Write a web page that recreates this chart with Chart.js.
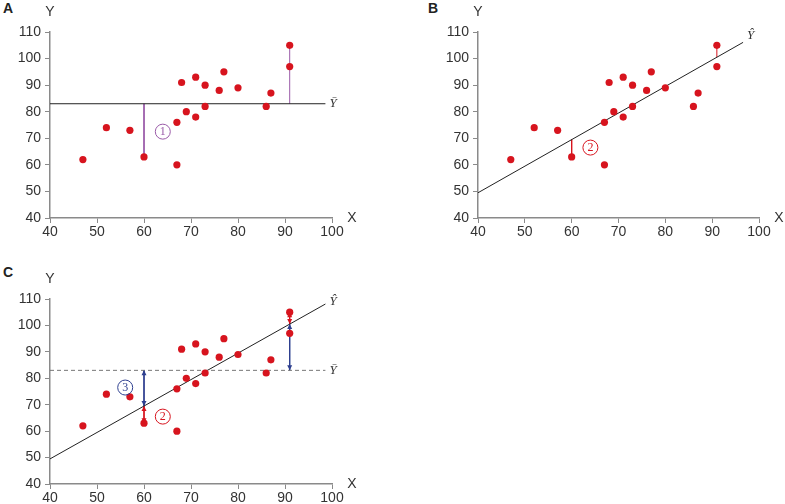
<!DOCTYPE html>
<html>
<head>
<meta charset="utf-8">
<script src="https://cdn.jsdelivr.net/npm/chart.js@4.4.0/dist/chart.umd.min.js"></script>
<style>
  body { margin: 0; background: #fff; width: 785px; height: 504px; position: relative; overflow: hidden; font-family: "Liberation Sans", Arial, sans-serif; }
  canvas { position: absolute; }
  .tag { position: absolute; font-weight: bold; font-size: 14px; color: #222; }
</style>
</head>
<body>
<div class="tag" style="left:3px;top:0px">A</div>
<div class="tag" style="left:428px;top:0px">B</div>
<div class="tag" style="left:3px;top:264px">C</div>
<canvas id="panelA" width="360" height="250" style="left:0;top:0"></canvas>
<canvas id="panelB" width="385" height="250" style="left:400px;top:0"></canvas>
<canvas id="panelC" width="360" height="266" style="left:0;top:250px"></canvas>
<script>
const xs = [47, 52, 57, 60, 67, 67, 68, 69, 71, 71, 73, 73, 76, 77, 80, 86, 87, 91, 91];
const ys = [62, 74, 73, 63, 60, 76, 91, 80, 93, 78, 90, 82, 88, 95, 89, 82, 87, 105, 97];
const xTicks = [40, 50, 60, 70, 80, 90, 100];
const yTicks = [40, 50, 60, 70, 80, 90, 100, 110];
const meanY = 83;
const meanLineX = [40, 98.6];
const regLineB = { x: [40, 96.6], y: [49.5, 106.1] };
const regLineC = { x: [40, 98.6], y: [49.5, 108.1] };
const residX = [60, 91];
const residY = [63, 105];
const fitY = [69.5, 100.5];

const red = "#d7141e";
const purple = "#9a5ba8";
const blue = "#2e3f8f";

const pts = xs.map((x, i) => ({ x: x, y: ys[i] }));

function seg(x1, y1, x2, y2, color, extra) {
  return Object.assign({
    data: [{ x: x1, y: y1 }, { x: x2, y: y2 }],
    showLine: true, pointRadius: 0, borderColor: color, borderWidth: 1, order: 2
  }, extra || {});
}

const overlay = {
  id: "overlay",
  afterDatasetsDraw(chart) {
    const ctx = chart.ctx, xs_ = chart.scales.x, ys_ = chart.scales.y;
    const o = chart.options.plugins.overlay;
    ctx.save();
    // arrowheads
    chart.data.datasets.forEach((ds) => {
      if (!ds.arrows) return;
      const a = ds.data[0], b = ds.data[1];
      const ax = xs_.getPixelForValue(a.x), ay = ys_.getPixelForValue(a.y);
      const bx = xs_.getPixelForValue(b.x), by = ys_.getPixelForValue(b.y);
      [[ax, ay, by > ay ? -1 : 1], [bx, by, by > ay ? 1 : -1]].forEach(([px, py, dir]) => {
        ctx.fillStyle = ds.borderColor;
        ctx.beginPath();
        ctx.moveTo(px, py);
        ctx.lineTo(px - 2.5, py - dir * 5);
        ctx.lineTo(px + 2.5, py - dir * 5);
        ctx.closePath();
        ctx.fill();
      });
    });
    // circled numbers
    (o.circles || []).forEach((c) => {
      const px = xs_.getPixelForValue(c.x), py = ys_.getPixelForValue(c.y);
      ctx.strokeStyle = c.color;
      ctx.lineWidth = 1;
      ctx.beginPath();
      ctx.arc(px, py, 7.5, 0, Math.PI * 2);
      ctx.stroke();
      ctx.fillStyle = c.color;
      ctx.font = "12px 'Liberation Serif', serif";
      ctx.textAlign = "center";
      ctx.textBaseline = "middle";
      ctx.fillText(c.text, px, py + 0.5);
    });
    // line labels
    (o.labels || []).forEach((l) => {
      const px = xs_.getPixelForValue(l.x), py = ys_.getPixelForValue(l.y);
      ctx.fillStyle = "#333";
      ctx.font = "italic 13px 'Liberation Serif', serif";
      ctx.textAlign = "left";
      ctx.textBaseline = "middle";
      ctx.fillText(l.text, px + 4, py);
    });
    // axis names
    ctx.fillStyle = "#333";
    ctx.font = "14px 'Liberation Sans', Arial, sans-serif";
    ctx.textAlign = "center";
    ctx.textBaseline = "middle";
    ctx.fillText("Y", xs_.left, ys_.top - 20);
    ctx.fillText("X", xs_.right + 20, ys_.bottom);
    ctx.restore();
  }
};

function makePanel(id, leftW, topPad, rightPad, bottomH, datasets, extras) {
  const axisColor = "#8a8a8a";
  return new Chart(document.getElementById(id), {
    type: "scatter",
    data: {
      datasets: [{
        data: pts, pointRadius: 3.6, pointHoverRadius: 3.6,
        backgroundColor: red, borderColor: red, borderWidth: 0, order: 1
      }].concat(datasets)
    },
    options: {
      responsive: false,
      animation: false,
      events: [],
      layout: { padding: { top: topPad, right: rightPad, left: 0, bottom: 0 } },
      plugins: { legend: { display: false }, tooltip: { enabled: false }, overlay: extras },
      scales: {
        x: {
          type: "linear", min: 40, max: 100,
          afterBuildTicks: (s) => { s.ticks = xTicks.map((v) => ({ value: v })); },
          afterFit: (s) => { s.height = bottomH; },
          grid: { drawOnChartArea: false, drawTicks: true, tickLength: 5, color: axisColor },
          border: { color: axisColor, width: 1.5 },
          ticks: { color: "#333", font: { size: 14, family: "'Liberation Sans', Arial" }, padding: 1, maxRotation: 0 }
        },
        y: {
          type: "linear", min: 40, max: 110,
          afterBuildTicks: (s) => { s.ticks = yTicks.map((v) => ({ value: v })); },
          afterFit: (s) => { s.width = leftW; },
          grid: { drawOnChartArea: false, drawTicks: true, tickLength: 5, color: axisColor },
          border: { color: axisColor, width: 1.5 },
          ticks: { color: "#333", font: { size: 14, family: "'Liberation Sans', Arial" }, padding: 4 }
        }
      }
    },
    plugins: [overlay]
  });
}

// Panel A: deviations from the mean
makePanel("panelA", 50, 32, 28, 32, [
  seg(meanLineX[0], meanY, meanLineX[1], meanY, "#222"),
  seg(residX[0], meanY, residX[0], residY[0], purple),
  seg(residX[1], meanY, residX[1], residY[1], purple)
], {
  circles: [{ x: 64, y: 72.5, text: "1", color: purple }],
  labels: [{ x: meanLineX[1], y: meanY, text: "\u0232" }]
});

// Panel B: residuals from the regression line
makePanel("panelB", 78, 32, 26, 32, [
  seg(regLineB.x[0], regLineB.y[0], regLineB.x[1], regLineB.y[1], "#222"),
  seg(residX[0], fitY[0], residX[0], residY[0], red),
  seg(residX[1], fitY[1], residX[1], residY[1], red)
], {
  circles: [{ x: 64, y: 66.5, text: "2", color: red }],
  labels: [{ x: regLineB.x[1], y: regLineB.y[1] + 2.5, text: "\u0176" }]
});

// Panel C: both decompositions
makePanel("panelC", 50, 49, 28, 32, [
  seg(meanLineX[0], meanY, meanLineX[1], meanY, "#777", { borderDash: [4, 3] }),
  seg(regLineC.x[0], regLineC.y[0], regLineC.x[1], regLineC.y[1], "#222"),
  seg(residX[0], meanY, residX[0], fitY[0], blue, { arrows: true }),
  seg(residX[1], fitY[1], residX[1], meanY, blue, { arrows: true }),
  seg(residX[0], fitY[0], residX[0], residY[0], red, { arrows: true }),
  seg(residX[1], residY[1], residX[1], fitY[1], red, { arrows: true })
], {
  circles: [
    { x: 56, y: 76.5, text: "3", color: blue },
    { x: 64, y: 65.5, text: "2", color: red }
  ],
  labels: [
    { x: meanLineX[1], y: meanY, text: "\u0232" },
    { x: regLineC.x[1], y: regLineC.y[1] + 1, text: "\u0176" }
  ]
});
</script>
</body>
</html>
